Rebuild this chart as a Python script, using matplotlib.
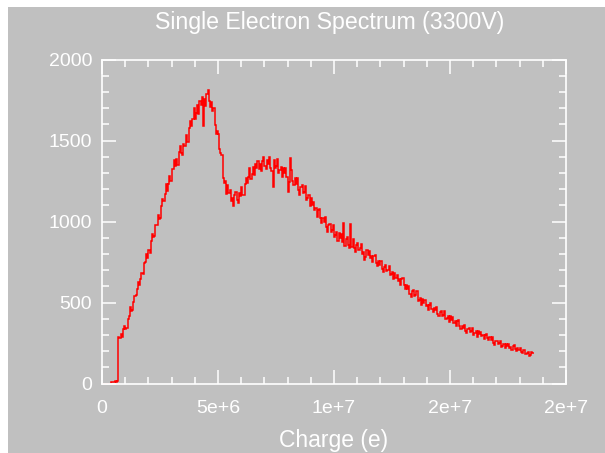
import numpy as np
import matplotlib.pyplot as plt
from matplotlib.patches import Rectangle
from matplotlib.ticker import FixedLocator, FixedFormatter, MultipleLocator

# histogram of single electron charge, bins of 5e4 e
bin_width = 5e4
counts = [
    0, 0, 0, 0, 0, 0, 0, 0, 8, 12, 10, 14,
    12, 16, 285, 278, 307, 286, 336, 358, 337, 345, 400, 416,
    470, 449, 452, 506, 543, 545, 582, 628, 610, 644, 684, 678,
    746, 750, 798, 773, 821, 806, 882, 921, 904, 912, 976, 979,
    1041, 1013, 1021, 1093, 1137, 1126, 1168, 1229, 1190, 1232, 1279, 1251,
    1327, 1322, 1381, 1340, 1385, 1349, 1430, 1467, 1421, 1412, 1478, 1468,
    1535, 1489, 1490, 1576, 1622, 1592, 1634, 1698, 1633, 1669, 1717, 1665,
    1744, 1718, 1766, 1590, 1757, 1712, 1785, 1809, 1741, 1704, 1736, 1683,
    1700, 1596, 1540, 1561, 1542, 1447, 1424, 1410, 1268, 1239, 1247, 1170,
    1224, 1176, 1193, 1128, 1147, 1095, 1161, 1183, 1132, 1117, 1175, 1158,
    1214, 1166, 1162, 1232, 1270, 1238, 1273, 1328, 1265, 1295, 1335, 1286,
    1354, 1329, 1371, 1322, 1352, 1310, 1375, 1398, 1343, 1325, 1377, 1353,
    1396, 1332, 1309, 1215, 1378, 1328, 1345, 1384, 1302, 1315, 1338, 1276,
    1332, 1297, 1331, 1275, 1180, 1245, 1395, 1315, 1252, 1225, 1267, 1233,
    1266, 1194, 1166, 1215, 1228, 1173, 1185, 1221, 1135, 1145, 1165, 1096,
    1144, 1102, 1123, 1068, 1081, 1028, 1072, 1076, 1019, 990, 1022, 994,
    1026, 963, 936, 976, 985, 938, 948, 977, 905, 917, 937, 881,
    927, 897, 921, 874, 990, 849, 893, 904, 855, 834, 985, 845,
    889, 835, 814, 854, 866, 825, 835, 863, 799, 809, 762, 778,
    823, 796, 820, 776, 788, 747, 786, 793, 745, 725, 755, 732,
    757, 706, 686, 722, 732, 692, 701, 728, 667, 675, 689, 642,
    680, 653, 670, 630, 642, 606, 642, 651, 608, 585, 608, 582,
    600, 553, 535, 568, 576, 539, 547, 569, 511, 517, 530, 486,
    522, 497, 514, 477, 487, 454, 487, 495, 458, 442, 469, 451,
    474, 431, 414, 443, 449, 416, 423, 445, 396, 404, 417, 380,
    414, 392, 408, 375, 386, 356, 385, 389, 353, 337, 358, 342,
    362, 325, 311, 337, 345, 317, 325, 345, 302, 310, 323, 290,
    321, 303, 317, 291, 301, 276, 302, 308, 279, 266, 286, 270,
    286, 252, 239, 260, 265, 241, 248, 264, 226, 233, 245, 217,
    245, 230, 243, 219, 228, 206, 229, 236, 211, 201, 219, 207,
    222, 196, 186, 204, 208, 185, 189, 196, 170, 179, 192, 186,
]
edges = np.arange(len(counts) + 1) * bin_width

x_ticks = [0, 5e6, 1e7, 1.5e7, 2e7]
x_tick_labels = ['0', '5e+6', '1e+7', '2e+7', '2e+7']
y_ticks = [0, 500, 1000, 1500, 2000]

title = 'Single Electron Spectrum (3300V)'
xlabel = 'Charge (e)'

bg = '#c0c0c0'
plt.rcParams['font.family'] = ['Liberation Sans', 'DejaVu Sans']

W, H = 605, 453
fig = plt.figure(figsize=(W / 100, H / 100), dpi=100, facecolor='white')
fig.patches.append(Rectangle((8 / W, 0), 1, (H - 7) / H, transform=fig.transFigure,
                             facecolor=bg, edgecolor='none', zorder=-10))

ax = fig.add_axes([102 / W, 1 - 383.5 / H, 464 / W, 324 / H])
ax.set_facecolor(bg)
ax.stairs(counts, edges, color='red', linewidth=1.1, baseline=None)

ax.set_xlim(0, 2e7)
ax.set_ylim(0, 2000)
ax.xaxis.set_major_locator(FixedLocator(x_ticks))
ax.xaxis.set_major_formatter(FixedFormatter(x_tick_labels))
ax.xaxis.set_minor_locator(MultipleLocator(1e6))
ax.yaxis.set_major_locator(FixedLocator(y_ticks))
ax.yaxis.set_minor_locator(MultipleLocator(100))

for s in ax.spines.values():
    s.set_color('white')
    s.set_linewidth(1.2)
ax.tick_params(which='both', direction='in', colors='white', width=1.1,
               top=True, right=True, labelsize=14)
ax.tick_params(which='major', length=10)
ax.tick_params(which='minor', length=5)
ax.tick_params(axis='x', which='major', pad=12)
ax.tick_params(axis='y', which='major', pad=7)

fig.text(330 / W, 1 - 22 / H, title, ha='center', va='center', color='white', fontsize=16.7)
fig.text(334 / W, 1 - 441 / H, xlabel, ha='center', va='center', color='white', fontsize=16.5)

fig.savefig('out.png', dpi=100, facecolor=fig.get_facecolor())
